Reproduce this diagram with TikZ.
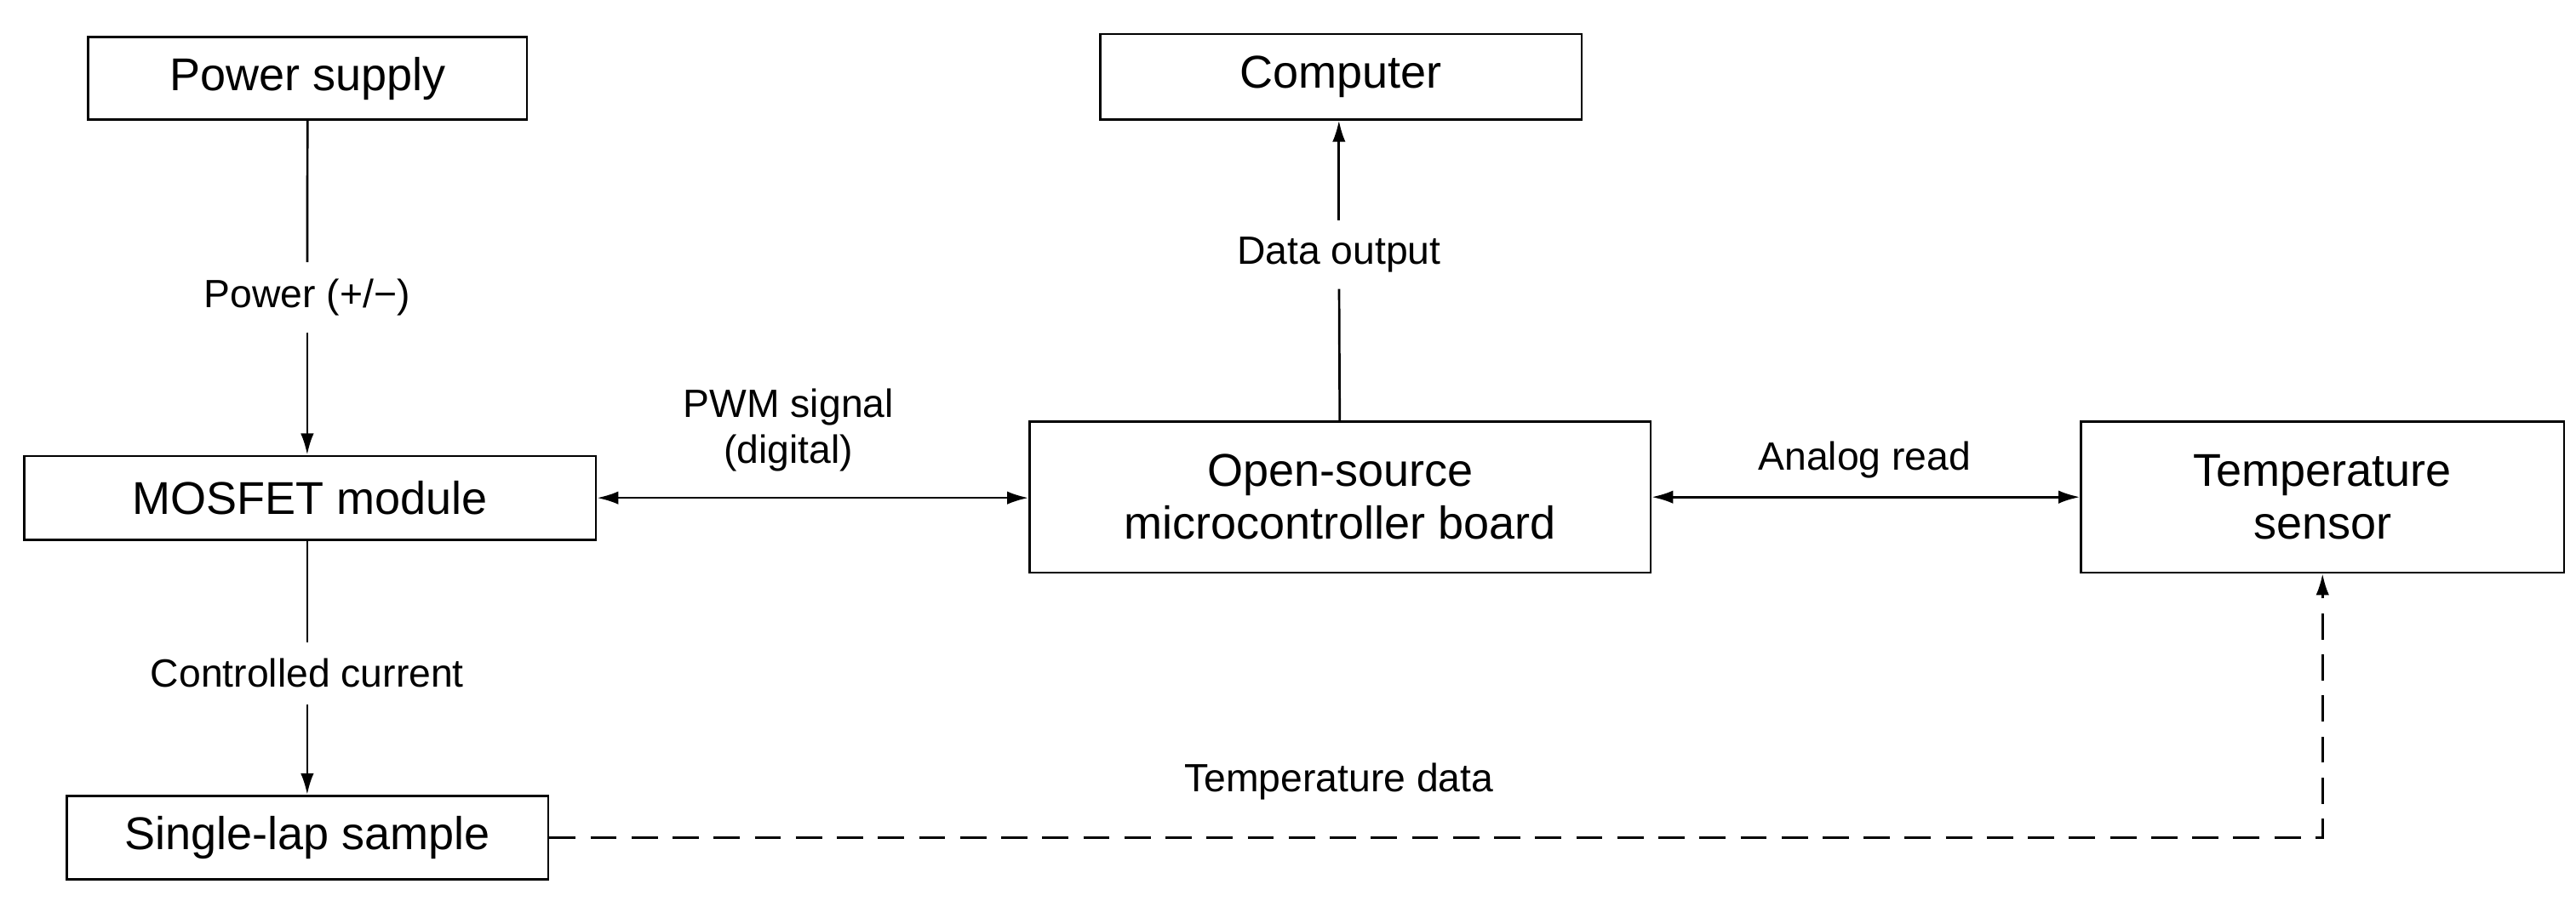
\documentclass[tikz,border=0pt]{standalone}
\usepackage{fontspec}
\setmainfont{Liberation Sans}
\usetikzlibrary{arrows.meta}
\begin{document}
\begin{tikzpicture}[x=1pt,y=-1pt,
  box/.style={draw,line width=1.4pt,inner sep=0pt,anchor=north west,align=center,font=\fontsize{28}{32}\selectfont},
  lab/.style={inner sep=4pt,align=center,font=\fontsize{24}{28}\selectfont},
  con/.style={line width=1.4pt},
  arr/.style={con,-{Latex[length=13pt,width=8pt]}},
  darr/.style={con,{Latex[length=13pt,width=8pt]}-{Latex[length=13pt,width=8pt]}}]
\useasboundingbox (0,0) rectangle (1568,552);
\node[box,minimum width=267pt,minimum height=50pt] (ps) at (53,22) {Power supply};
\node[box,minimum width=293pt,minimum height=52pt] (pc) at (669,20) {Computer};
\node[box,minimum width=348pt,minimum height=51pt] (mos) at (14,277) {MOSFET module};
\node[box,minimum width=378pt,minimum height=92pt] (mcu) at (626,256) {Open-source\\microcontroller board};
\node[box,minimum width=294pt,minimum height=92pt] (ts) at (1266,256) {Temperature\\sensor};
\node[box,minimum width=293pt,minimum height=51pt] (sl) at (40,484) {Single-lap sample};
\node[lab,inner sep=10pt] (pw) at (187,181) {Power (+/−)};
\node[lab,inner sep=10pt] (do) at (815,155) {Data output};
\node[lab,inner sep=10pt] (cc) at (187,410) {Controlled current};
\node[lab] (pwm) at (480,262) {PWM signal\\(digital)};
\node[lab] (ar) at (1135,280) {Analog read};
\node[lab] (td) at (815,476) {Temperature data};
\draw[con] (ps) -- (pw);
\draw[arr] (pw) -- (mos.north -| pw);
\draw[con] (mcu) -- (do);
\draw[arr] (do) -- (pc.south -| do);
\draw[con] (mos.south -| cc) -- (cc);
\draw[arr] (cc) -- (sl.north -| cc);
\draw[darr] (mos.east) -- (mcu.west |- mos.east);
\draw[darr] (mcu.east) -- (ts.west);
\draw[arr,dash pattern=on 16pt off 9pt] (sl.east) -| (ts.south);
\end{tikzpicture}
\end{document}
